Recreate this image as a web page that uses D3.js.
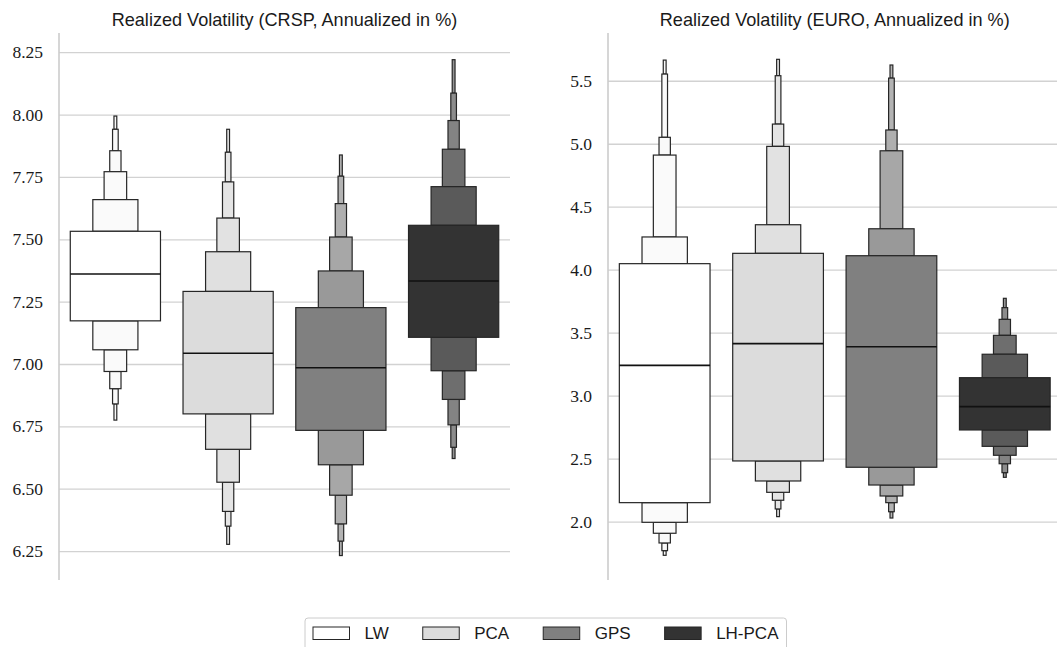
<!DOCTYPE html>
<html>
<head>
<meta charset="utf-8">
<script src="https://cdn.jsdelivr.net/npm/d3@7"></script>
<style>
  body { margin: 0; background: #fff; }
  svg { display: block; }
</style>
</head>
<body>
<svg width="1057" height="647"></svg>
<script>
// methods (x categories / legend)
const methods = ["LW", "PCA", "GPS", "LH-PCA"];

// CRSP: medians and letter-value bounds (index 0 = box quartiles, then outward)
const crspMedian = [7.361, 7.043, 6.985, 7.333];
const crspUpper = [
    [7.532, 7.659, 7.771, 7.855, 7.941, 7.994],
    [7.291, 7.450, 7.585, 7.730, 7.849, 7.941],
    [7.226, 7.373, 7.509, 7.643, 7.753, 7.838],
    [7.556, 7.711, 7.861, 7.976, 8.086, 8.220]
];
const crspLower = [
    [7.173, 7.057, 6.970, 6.901, 6.840, 6.775],
    [6.800, 6.658, 6.526, 6.409, 6.350, 6.277],
    [6.734, 6.596, 6.474, 6.359, 6.290, 6.232],
    [7.107, 6.973, 6.858, 6.756, 6.666, 6.621]
];
const crspTicks = [6.25, 6.50, 6.75, 7.00, 7.25, 7.50, 7.75, 8.00, 8.25];

// EURO
const euroMedian = [3.241, 3.413, 3.389, 2.913];
const euroUpper = [
    [4.048, 4.260, 4.910, 5.051, 5.553, 5.664],
    [4.130, 4.357, 4.979, 5.156, 5.540, 5.670],
    [4.111, 4.325, 4.944, 5.109, 5.521, 5.625],
    [3.143, 3.329, 3.479, 3.606, 3.699, 3.773]
];
const euroLower = [
    [2.151, 1.995, 1.908, 1.831, 1.770, 1.733],
    [2.482, 2.323, 2.233, 2.170, 2.101, 2.040],
    [2.432, 2.291, 2.204, 2.151, 2.079, 2.029],
    [2.728, 2.598, 2.527, 2.460, 2.389, 2.352]
];
const euroTicks = [2.0, 2.5, 3.0, 3.5, 4.0, 4.5, 5.0, 5.5];

// fill per level, from the box outwards
const shades = [
    ["#ffffff", "#fafafa", "#fafafa", "#f9f9f9", "#f9f9f9", "#f9f9f9"],
    ["#dcdcdc", "#e0e0e0", "#e2e2e2", "#e4e4e4", "#e5e5e5", "#e6e6e6"],
    ["#808080", "#999999", "#a7a7a7", "#afafaf", "#b3b3b3", "#b6b6b6"],
    ["#333333", "#5a5a5a", "#6e6e6e", "#838383", "#8c8c8c", "#949494"]
];

const svg = d3.select("svg");
const plotTop = 33, plotBottom = 580;

function drawPanel(p) {
    const g = svg.append("g");

    const scX = d3.scaleBand()
        .domain(methods)
        .range([p.x0, p.x1])
        .paddingInner(0.2)
        .paddingOuter(0.1);

    const scY = d3.scaleLinear()
        .domain(p.yDomain)
        .range([plotBottom, plotTop]);

    // grid + tick labels
    const axis = d3.axisLeft(scY)
        .tickValues(p.ticks)
        .tickFormat(d3.format(p.fmt))
        .tickSize(-(p.gridEnd - p.x0))
        .tickPadding(16);

    const ax = g.append("g")
        .attr("transform", `translate(${p.x0}, 0)`)
        .call(axis);
    ax.select(".domain").remove();
    ax.selectAll(".tick line")
        .attr("stroke", "#d2d2d2")
        .attr("stroke-width", 1.3);
    ax.selectAll(".tick text")
        .attr("fill", "#1a1a1a")
        .style("font-family", "'Liberation Serif', 'DejaVu Serif', serif")
        .style("font-size", "17.5px");

    // left spine
    g.append("line")
        .attr("x1", p.x0).attr("x2", p.x0)
        .attr("y1", plotTop).attr("y2", plotBottom)
        .attr("stroke", "#cccccc")
        .attr("stroke-width", 1.6);

    const bw = scX.bandwidth();

    methods.forEach((m, i) => {
        const cx = scX(m) + bw / 2;
        const up = p.upper[i], lo = p.lower[i];
        const n = up.length;
        // outer levels first so wider ones sit on top
        for (let k = n - 1; k >= 1; k--) {
            const w = bw / Math.pow(2, k);
            g.append("rect")
                .attr("x", cx - w / 2)
                .attr("y", scY(up[k]))
                .attr("width", w)
                .attr("height", scY(up[k - 1]) - scY(up[k]))
                .attr("fill", shades[i][k])
                .attr("stroke", "#262626")
                .attr("stroke-width", 1.2);
            g.append("rect")
                .attr("x", cx - w / 2)
                .attr("y", scY(lo[k - 1]))
                .attr("width", w)
                .attr("height", scY(lo[k]) - scY(lo[k - 1]))
                .attr("fill", shades[i][k])
                .attr("stroke", "#262626")
                .attr("stroke-width", 1.2);
        }
        // box
        g.append("rect")
            .attr("x", cx - bw / 2)
            .attr("y", scY(up[0]))
            .attr("width", bw)
            .attr("height", scY(lo[0]) - scY(up[0]))
            .attr("fill", shades[i][0])
            .attr("stroke", "#262626")
            .attr("stroke-width", 1.2);
        // median
        g.append("line")
            .attr("x1", cx - bw / 2).attr("x2", cx + bw / 2)
            .attr("y1", scY(p.median[i])).attr("y2", scY(p.median[i]))
            .attr("stroke", "#111")
            .attr("stroke-width", 1.6);
    });

    g.append("text")
        .attr("x", (p.x0 + p.x1) / 2)
        .attr("y", 26)
        .attr("text-anchor", "middle")
        .attr("fill", "#1a1a1a")
        .style("font-family", "'Liberation Sans', Arial, sans-serif")
        .style("font-size", "18.1px")
        .text(p.title);
}

drawPanel({
    title: "Realized Volatility (CRSP, Annualized in %)",
    x0: 59, x1: 510, gridEnd: 510,
    yDomain: [6.134, 8.327],
    ticks: crspTicks, fmt: ".2f",
    median: crspMedian, upper: crspUpper, lower: crspLower
});

drawPanel({
    title: "Realized Volatility (EURO, Annualized in %)",
    x0: 608, x1: 1061.5, gridEnd: 1061.5,
    yDomain: [1.537, 5.879],
    ticks: euroTicks, fmt: ".1f",
    median: euroMedian, upper: euroUpper, lower: euroLower
});

// legend
const leg = svg.append("g");
const legFrame = leg.append("rect")
    .attr("y", 618)
    .attr("height", 40)
    .attr("rx", 3)
    .attr("fill", "#fff")
    .attr("stroke", "#cccccc")
    .attr("stroke-width", 1);

let lx = 313;
methods.forEach((m, i) => {
    leg.append("rect")
        .attr("x", lx).attr("y", 627)
        .attr("width", 36.5).attr("height", 12.5)
        .attr("fill", shades[i][0])
        .attr("stroke", "#262626")
        .attr("stroke-width", 1);
    const t = leg.append("text")
        .attr("x", lx + 51.5)
        .attr("y", 639)
        .attr("fill", "#1a1a1a")
        .style("font-family", "'Liberation Sans', Arial, sans-serif")
        .style("font-size", "17px")
        .text(m);
    lx = lx + 51.5 + t.node().getComputedTextLength() + 34;
});
legFrame.attr("x", 305).attr("width", lx - 34 + 8 - 305);
</script>
</body>
</html>
